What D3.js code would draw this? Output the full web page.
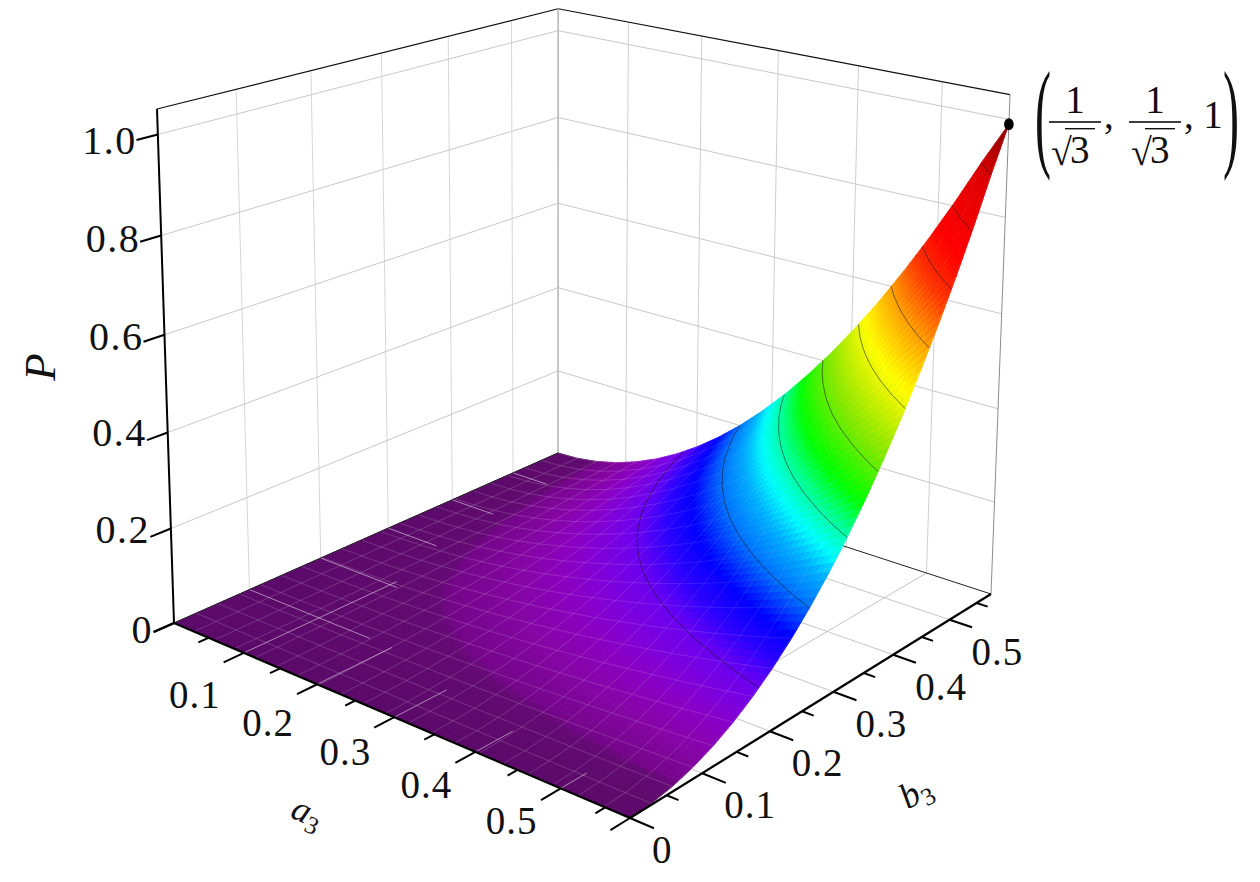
<!DOCTYPE html>
<html><head><meta charset="utf-8">
<script src="https://cdn.jsdelivr.net/npm/d3@7"></script>
<style>html,body{margin:0;background:#fff}svg{display:block}text{font-family:"Liberation Serif",serif;fill:#111}</style>
</head><body><svg id="c" width="1260" height="882"></svg>
<script>
// ---------- data ----------
const aTicks = [0.1,0.2,0.3,0.4,0.5];
const aMinor = [0.05,0.15,0.25,0.35,0.45,0.55];
const bTicks = [0,0.1,0.2,0.3,0.4,0.5];
const bMinor = [0.05,0.15,0.25,0.35,0.45,0.55];
const zTicks = [0,0.2,0.4,0.6,0.8,1.0];
const zLabels = ["0","0.2","0.4","0.6","0.8","1.0"];
const contourLevels = [0.1,0.2,0.3,0.4,0.5,0.6,0.7,0.8,0.9];
const AMAX = 0.57735, ZMAX = 1.05;
const peak = {a:0.57735,b:0.57735,p:0.99};
// P on a 21 x 21 grid across a3 and b3, row by row
const p00=[0,0,0,0,0,0,0,0,0,0,0,0,0,0,0,0,0,0,0,0,0];
const p01=[0,.0000,.0000,.0001,.0001,.0002,.0002,.0003,.0004,.0005,.0006,.0008,.0009,.0011,.0012,.0014,.0016,.0018,.0020,.0023,.0025];
const p02=[0,.0000,.0001,.0002,.0004,.0006,.0009,.0012,.0016,.0020,.0025,.0030,.0036,.0042,.0049,.0056,.0064,.0072,.0081,.0090,.0100];
const p03=[0,.0001,.0002,.0005,.0009,.0014,.0020,.0028,.0036,.0046,.0056,.0068,.0081,.0095,.0110,.0127,.0144,.0163,.0182,.0203,.0225];
const p04=[0,.0001,.0004,.0009,.0016,.0025,.0036,.0049,.0064,.0081,.0100,.0121,.0144,.0169,.0196,.0225,.0256,.0289,.0324,.0361,.0400];
const p05=[0,.0002,.0006,.0014,.0025,.0039,.0056,.0077,.0100,.0127,.0156,.0189,.0225,.0264,.0306,.0352,.0400,.0452,.0506,.0564,.0625];
const p06=[0,.0002,.0009,.0020,.0036,.0056,.0081,.0110,.0144,.0182,.0225,.0272,.0324,.0380,.0441,.0506,.0576,.0650,.0729,.0812,.0900];
const p07=[0,.0003,.0012,.0028,.0049,.0077,.0110,.0150,.0196,.0248,.0306,.0371,.0441,.0518,.0600,.0689,.0784,.0885,.0992,.1106,.1225];
const p08=[0,.0004,.0016,.0036,.0064,.0100,.0144,.0196,.0256,.0324,.0400,.0484,.0576,.0676,.0784,.0900,.1024,.1156,.1296,.1444,.1600];
const p09=[0,.0005,.0020,.0046,.0081,.0127,.0182,.0248,.0324,.0410,.0506,.0613,.0729,.0856,.0992,.1139,.1296,.1463,.1640,.1828,.2025];
const p10=[0,.0006,.0025,.0056,.0100,.0156,.0225,.0306,.0400,.0506,.0625,.0756,.0900,.1056,.1225,.1406,.1600,.1806,.2025,.2256,.2500];
const p11=[0,.0008,.0030,.0068,.0121,.0189,.0272,.0371,.0484,.0613,.0756,.0915,.1089,.1278,.1482,.1702,.1936,.2186,.2450,.2730,.3025];
const p12=[0,.0009,.0036,.0081,.0144,.0225,.0324,.0441,.0576,.0729,.0900,.1089,.1296,.1521,.1764,.2025,.2304,.2601,.2916,.3249,.3600];
const p13=[0,.0011,.0042,.0095,.0169,.0264,.0380,.0518,.0676,.0856,.1056,.1278,.1521,.1785,.2070,.2377,.2704,.3053,.3422,.3813,.4225];
const p14=[0,.0012,.0049,.0110,.0196,.0306,.0441,.0600,.0784,.0992,.1225,.1482,.1764,.2070,.2401,.2756,.3136,.3540,.3969,.4422,.4900];
const p15=[0,.0014,.0056,.0127,.0225,.0352,.0506,.0689,.0900,.1139,.1406,.1702,.2025,.2377,.2756,.3164,.3600,.4064,.4556,.5077,.5625];
const p16=[0,.0016,.0064,.0144,.0256,.0400,.0576,.0784,.1024,.1296,.1600,.1936,.2304,.2704,.3136,.3600,.4096,.4624,.5184,.5776,.6400];
const p17=[0,.0018,.0072,.0163,.0289,.0452,.0650,.0885,.1156,.1463,.1806,.2186,.2601,.3053,.3540,.4064,.4624,.5220,.5852,.6521,.7225];
const p18=[0,.0020,.0081,.0182,.0324,.0506,.0729,.0992,.1296,.1640,.2025,.2450,.2916,.3422,.3969,.4556,.5184,.5852,.6561,.7310,.8100];
const p19=[0,.0023,.0090,.0203,.0361,.0564,.0812,.1106,.1444,.1828,.2256,.2730,.3249,.3813,.4422,.5077,.5776,.6521,.7310,.8145,.9025];
const p20=[0,.0025,.0100,.0225,.0400,.0625,.0900,.1225,.1600,.2025,.2500,.3025,.3600,.4225,.4900,.5625,.6400,.7225,.8100,.9025,.9900];
const rows=[p00,p01,p02,p03,p04,p05,p06,p07,p08,p09,p10,p11,p12,p13,p14,p15,p16,p17,p18,p19,p20];
// colour ramp of the surface
const rampAt  =[0,.010,.0125,.03,.05,.07,.10,.13,.16,.20,.24,.27,.31,.35,.42,.48,.52,.60,.68,.75,.88,1];
const rampCol =["#5c0a6a","#640a74","#75058a","#8505a5","#8a00c0","#8000d8","#6a00f0","#2a00ff","#0000ff","#0070ff","#00b0ff","#00ffff","#00ff90","#00ff00","#80e800","#d0f000","#ffff00","#ffa000","#ff3000","#ff0000","#e00000","#800000"];
// floor grid lines that show through the flat part of the surface
const speckB=[[0.1,0.17],[0.2,0.11],[0.3,0.07],[0.4,0.06],[0.5,0.05]];
const speckA=[[0.1,0.21],[0.2,0.10],[0.3,0.07],[0.4,0.05],[0.5,0.035]];

// ---------- perspective camera, calibrated on the box corners ----------
const A=[174,623],B=[630,818],C=[991,594],D=[558,453],Ap=[157,109],Cp=[1010,95];
const dx1=B[0]-C[0],dx2=D[0]-C[0],sx=A[0]-B[0]+C[0]-D[0],
      dy1=B[1]-C[1],dy2=D[1]-C[1],sy=A[1]-B[1]+C[1]-D[1],
      den=dx1*dy2-dx2*dy1,
      g=(sx*dy2-dx2*sy)/den,h=(dx1*sy-sx*dy1)/den,
      m00=B[0]-A[0]+g*B[0],m01=D[0]-A[0]+h*D[0],m02=A[0],
      m10=B[1]-A[1]+g*B[1],m11=D[1]-A[1]+h*D[1],m12=A[1];
const Wc=1+g+h,Xc=m00+m01+m02,Yc=m10+m11+m12;
// vertical column: through A' (u=0,v=0) and the x of C' (u=1,v=1)
const iW=((Xc-Cp[0]*Wc)-(A[0]-Ap[0]))/(Cp[0]-Ap[0]);
const pX=Ap[0]*(1+iW)-A[0],pY=Ap[1]*(1+iW)-A[1];
const uS=d3.scaleLinear([0,AMAX],[0,1]),vS=d3.scaleLinear([0,AMAX],[0,1]),wS=d3.scaleLinear([0,ZMAX],[0,1]);
function homog(a,b,z){const u=uS(a),v=vS(b),t=wS(z);
  const W=1+g*u+h*v+iW*t;
  return [(m00*u+m01*v+m02+pX*t)/W,(m10*u+m11*v+m12+pY*t)/W,W];}
const P3=(a,b,z)=>homog(a,b,z).slice(0,2);

const svg=d3.select("#c");
const line=d3.line();
const seg=(g0,p,q,col,w,op)=>g0.append("path").attr("d",line([p,q])).attr("fill","none").attr("stroke",col).attr("stroke-width",w).attr("stroke-opacity",op==null?1:op);

// ---------- walls and floor ----------
const walls=svg.append("g");
const gridTicks=[0.1,0.2,0.3,0.4,0.5];
gridTicks.forEach(t=>{
  seg(walls,P3(0,t,0),P3(0,t,ZMAX),"#c8c8c8",1,.75);
  seg(walls,P3(t,AMAX,0),P3(t,AMAX,ZMAX),"#bdbdbd",1,.75);
  seg(walls,P3(t,0,0),P3(t,AMAX,0),"#c4c4c4",1);
  seg(walls,P3(0,t,0),P3(AMAX,t,0),"#c4c4c4",1);
});
zTicks.slice(1).forEach(z=>{
  seg(walls,P3(0,0,z),P3(0,AMAX,z),"#c8c8c8",1);
  seg(walls,P3(0,AMAX,z),P3(AMAX,AMAX,z),"#c8c8c8",1);
});
seg(walls,P3(0,0,ZMAX),P3(0,AMAX,ZMAX),"#111",1.2);
seg(walls,P3(0,AMAX,ZMAX),P3(AMAX,AMAX,ZMAX),"#111",1.2);
seg(walls,P3(0,AMAX,0),P3(0,AMAX,ZMAX),"#b8b8b8",1.6);
seg(walls,P3(AMAX,AMAX,0),P3(AMAX,AMAX,ZMAX),"#8c8c8c",1);
seg(walls,P3(0,AMAX,0),P3(AMAX,AMAX,0),"#222",1);

// ---------- surface ----------
const N=rows.length-1, gridA=d3.scaleLinear([0,N],[0,AMAX]);
const color=d3.scaleLinear().domain(rampAt).range(rampCol).interpolate(d3.interpolateRgb).clamp(true);
const SUB=4,quads=[];
const pAt=(x,y)=>{const i=Math.min(N-1,Math.floor(x)),j=Math.min(N-1,Math.floor(y)),fx=x-i,fy=y-j;
  return rows[j][i]*(1-fx)*(1-fy)+rows[j][i+1]*fx*(1-fy)+rows[j+1][i]*(1-fx)*fy+rows[j+1][i+1]*fx*fy;};
for(let j=0;j<N;j++)for(let i=0;i<N;i++)for(let sj=0;sj<SUB;sj++)for(let si=0;si<SUB;si++){
  const x0=i+si/SUB,x1=i+(si+1)/SUB,y0=j+sj/SUB,y1=j+(sj+1)/SUB;
  const pt=(x,y)=>homog(gridA(x),gridA(y),pAt(x,y));
  const c=[pt(x0,y0),pt(x1,y0),pt(x1,y1),pt(x0,y1)];
  quads.push({d:"M"+c.map(q=>q[0].toFixed(2)+","+q[1].toFixed(2)).join("L")+"Z",
              col:color(pAt((x0+x1)/2,(y0+y1)/2)),depth:d3.mean(c,q=>q[2])});
}
quads.sort((p,q)=>q.depth-p.depth);
svg.append("g").selectAll("path").data(quads).join("path")
  .attr("d",d=>d.d).attr("fill",d=>d.col).attr("stroke",d=>d.col).attr("stroke-width",1).attr("stroke-linejoin","round");

// mesh: clear on the flat part, very faint on the steep part
const meshOp=d3.scaleLinear([0,.12,.25],[.24,.15,.06]).clamp(true);
const mesh=svg.append("g").attr("fill","none");
d3.range(N+1).forEach(k=>d3.range(N).forEach(i=>{
  seg(mesh,P3(gridA(i),gridA(k),rows[k][i]),P3(gridA(i+1),gridA(k),rows[k][i+1]),"#fff",.7,meshOp(rows[k][i]));
  seg(mesh,P3(gridA(k),gridA(i),rows[i][k]),P3(gridA(k),gridA(i+1),rows[i+1][k]),"#fff",.7,meshOp(rows[i][k]));
}));
// show-through of floor grid
const specks=svg.append("g");
speckB.forEach(s=>seg(specks,P3(0,s[0],0),P3(s[1],s[0],0),"#fff",1,.5));
speckA.forEach(s=>seg(specks,P3(s[0],0,0),P3(s[0],s[1],0),"#fff",1,.5));

// contours
const flat=rows.flat(),n=N+1;
const cs=d3.contours().size([n,n]).thresholds(contourLevels)(flat);
const cg=svg.append("g").attr("fill","none").attr("stroke","#1a1a1a").attr("stroke-width",1).attr("stroke-opacity",.55);
const inside=q=>q[0]>=.5&&q[0]<=n-.5&&q[1]>=.5&&q[1]<=n-.5;
const cl=d3.line().defined(q=>q.ok).x(q=>q.xy[0]).y(q=>q.xy[1]);
cs.forEach(mp=>mp.coordinates.forEach(poly=>poly.forEach(ring=>{
  cg.append("path").attr("d",cl(ring.map(q=>({ok:inside(q),xy:inside(q)?P3(gridA(q[0]-.5),gridA(q[1]-.5),mp.value):[0,0]}))));
})));

// ---------- axes ----------
const ax=svg.append("g");
seg(ax,P3(0,0,0),P3(0,AMAX,0),"#222",1);
seg(ax,P3(0,0,0),P3(AMAX,0,0),"#000",2.2);
seg(ax,P3(AMAX,0,0),P3(AMAX,AMAX,0),"#000",2.2);
seg(ax,P3(0,0,0),P3(0,0,ZMAX),"#000",2);
const TL=0.026;
[0].concat(aTicks,[AMAX]).forEach(t=>seg(ax,P3(t,0,0),P3(t,-TL,0),"#000",2));
aMinor.forEach(t=>seg(ax,P3(t,0,0),P3(t,-TL/2,0),"#000",2));
bTicks.forEach(t=>seg(ax,P3(AMAX,t,0),P3(AMAX+TL,t,0),"#000",2));
bMinor.forEach(t=>seg(ax,P3(AMAX,t,0),P3(AMAX+TL/2,t,0),"#000",2));
zTicks.forEach(z=>seg(ax,P3(0,0,z),P3(0,-TL,z),"#000",2));

// labels
const lab=svg.append("g").attr("font-size",39).attr("letter-spacing",1);
const aDy=[55,52,48,46,46];
aTicks.forEach((t,i)=>{const p=P3(t,0,0);
  lab.append("text").attr("x",p[0]-49).attr("y",p[1]+aDy[i]).attr("text-anchor","middle").text(d3.format(".1f")(t));});
bTicks.forEach(t=>{const p=P3(AMAX,t,0);
  lab.append("text").attr("x",p[0]+22).attr("y",p[1]+45).text(t===0?"0":d3.format(".1f")(t));});
const zDy=[20,14,14,15,16,19];
zTicks.forEach((z,i)=>{const p=P3(0,0,z);
  lab.append("text").attr("x",p[0]-21).attr("y",p[1]+zDy[i]).attr("text-anchor","end").attr("font-size",40).attr("letter-spacing",1.5).text(zLabels[i]);});
lab.append("text").attr("transform","translate(55,367) rotate(-90)").attr("text-anchor","middle").attr("font-style","italic").attr("font-size",45).attr("letter-spacing",0).text("P");
const at=lab.append("text").attr("transform","translate(303,823) rotate(24)").attr("text-anchor","middle").attr("font-size",36).attr("letter-spacing",0);
at.append("tspan").attr("font-style","italic").text("a");
at.append("tspan").attr("font-size",25).attr("dy",7).text("3");
const bt=lab.append("text").attr("transform","translate(921,802) rotate(-30)").attr("text-anchor","middle").attr("font-size",36).attr("letter-spacing",0);
bt.append("tspan").attr("font-style","italic").text("b");
bt.append("tspan").attr("font-size",25).attr("dy",7).text("3");

// peak marker and annotation
const pk=P3(peak.a,peak.b,peak.p);
svg.append("ellipse").attr("cx",pk[0]).attr("cy",pk[1]).attr("rx",4.8).attr("ry",6).attr("fill","#000");
const note=svg.append("g").attr("font-size",39);
const paren=(x,s)=>note.append("text").attr("transform",`translate(${x},155) scale(.4,1)`).attr("font-size",120).attr("text-anchor","middle").text(s);
paren(1043,"(");paren(1231,")");
[1075,1155].forEach(cx=>{
  note.append("text").attr("x",cx).attr("y",113).attr("text-anchor","middle").text("1");
  note.append("rect").attr("x",cx-26).attr("y",121.2).attr("width",52).attr("height",1.6).attr("fill","#111");
  note.append("text").attr("x",cx-24).attr("y",165).attr("font-size",38).text("√");
  note.append("text").attr("x",cx-5).attr("y",163).text("3");
  note.append("rect").attr("x",cx-10).attr("y",128).attr("width",30).attr("height",1.4).attr("fill","#111");
  note.append("text").attr("x",cx+29).attr("y",128).text(",");
});
note.append("text").attr("x",1213).attr("y",128).attr("text-anchor","middle").text("1");
</script></body></html>
